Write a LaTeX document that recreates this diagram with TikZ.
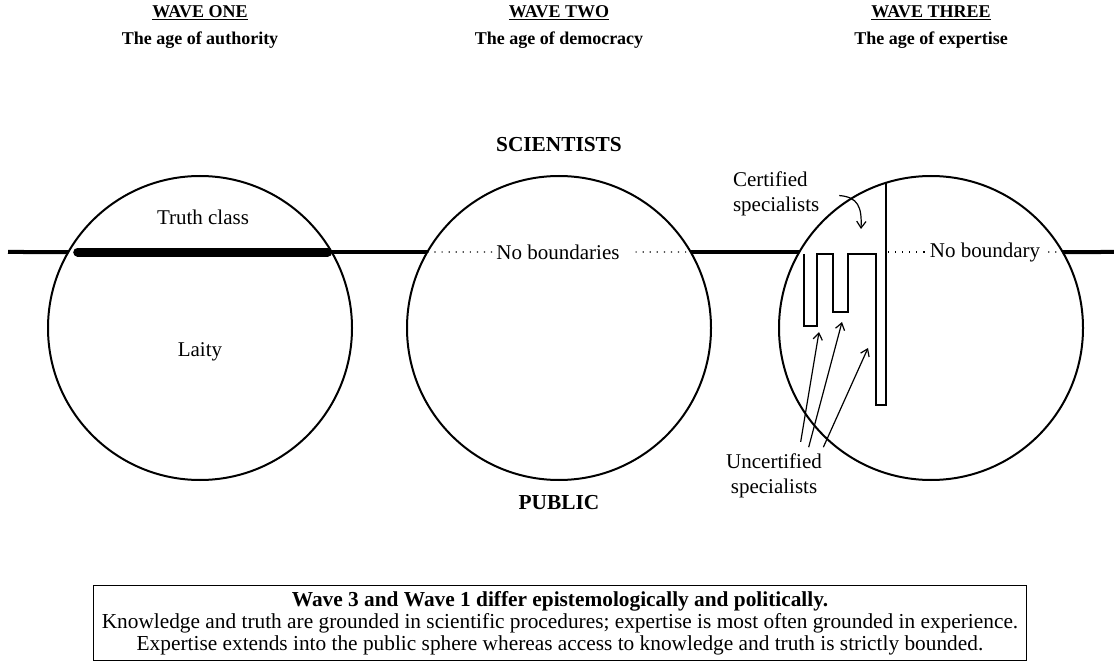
\documentclass[tikz,border=0pt]{standalone}
\usepackage{fontspec}
\setmainfont{Liberation Serif}
\usetikzlibrary{arrows.meta}
\begin{document}
\begin{tikzpicture}[x=0.75pt,y=-0.75pt,
  every node/.style={inner sep=0pt,outer sep=0pt},
  body/.style={font=\fontsize{15.75}{18.75}\selectfont},
  head/.style={font=\bfseries\fontsize{13.5}{16}\selectfont},
  big/.style={font=\bfseries\fontsize{16}{19}\selectfont},
  ring/.style={circle,draw,line width=1.5pt,minimum size=228pt},
  bound/.style={line width=3pt},
  bar/.style={line width=6.75pt,line cap=round},
  wall/.style={line width=1.5pt,line join=miter},
  dots/.style={line width=0.9pt,dash pattern=on 0.9pt off 4.4pt},
  arr/.style={line width=0.9pt,-{Straight Barb[length=5pt,width=7pt]}},
  note/.style={draw,line width=0.75pt,align=center,inner xsep=6pt,inner ysep=4pt,
    font=\fontsize{16}{16.5}\selectfont}
]
\useasboundingbox (0,0) rectangle (1114,670);

% headings of the three waves
\node[head] (w1) at (200,13) {\underline{WAVE ONE}};
\node[head] (a1) at (200,40) {The age of authority};
\node[head] (w2) at (559,13) {\underline{WAVE TWO}};
\node[head] (a2) at (559,40) {The age of democracy};
\node[head] (w3) at (931,13) {\underline{WAVE THREE}};
\node[head] (a3) at (931,40) {The age of expertise};

\node[big] (sci) at (559,145) {SCIENTISTS};
\node[big] (pub) at (559,503) {PUBLIC};

% the three circles
\node[ring] (c1) at (200,328) {};
\node[ring] (c2) at (559,328) {};
\node[ring] (c3) at (931,328) {};

% boundary between scientists and public
\coordinate (lend) at (8,252);
\coordinate (rend) at (1114,252);
\draw[bound] (lend) -- (c1.150);
\draw[bar,shorten <=7pt,shorten >=3pt] (c1.150) -- (c1.30);
\draw[bound] (c1.30) -- (c2.150);
\draw[bound] (c2.30) -- (c3.150);
\draw[bound] (c3.30) -- (rend);

% wave one labels
\node[body] (truth) at (203,217) {Truth class};
\node[body] (laity) at (200,352) {Laity};

% wave two: no boundaries
\node[body] (nb2) at (558,252) {No boundaries};
\draw[dots,shorten >=2pt] (c2.150) -- (nb2.west);
\draw[dots,shorten <=12pt] (nb2.east) -- (c2.30);

% wave three: the specialists' boundary
\draw[wall] (804,254) -- (804,326) -- (817,326) -- (817,254) -- (833,254)
  -- (833,312) -- (848,312) -- (848,254) -- (876,254) -- (876,405)
  -- (886,405) -- (c3.107.2 -| 886,0);
\coordinate (wallr) at (888,252);
\node[body] (nb3) at (985,252) {No boundary};
\draw[dots,shorten >=2pt] (wallr) -- (nb3.west);
\draw[dots,shorten <=6pt] (nb3.east) -- (c3.30);

\node[body,align=left,anchor=west] (cert) at (733,194) {Certified\\specialists};
\coordinate (ct) at (861,229);
\draw[arr,shorten <=15pt] (cert.east) .. controls (858,197) and (862,207) .. (ct);

\node[body,align=center] (unc) at (774,476) {Uncertified\\specialists};
\coordinate (t1) at (819,332);
\coordinate (t2) at (842,322);
\coordinate (t3) at (868,348);
\draw[arr] ([xshift=20pt,yshift=9pt]unc.north) -- (t1);
\draw[arr] ([xshift=26pt,yshift=5pt]unc.north) -- (t2);
\draw[arr] ([xshift=37pt,yshift=5pt]unc.north) -- (t3);

% summary box
\node[note] (box) at (560,623) {\textbf{Wave 3 and Wave 1 differ epistemologically and politically.}\\
Knowledge and truth are grounded in scientific procedures; expertise is most often grounded in experience.\\
Expertise extends into the public sphere whereas access to knowledge and truth is strictly bounded.};
\end{tikzpicture}
\end{document}
